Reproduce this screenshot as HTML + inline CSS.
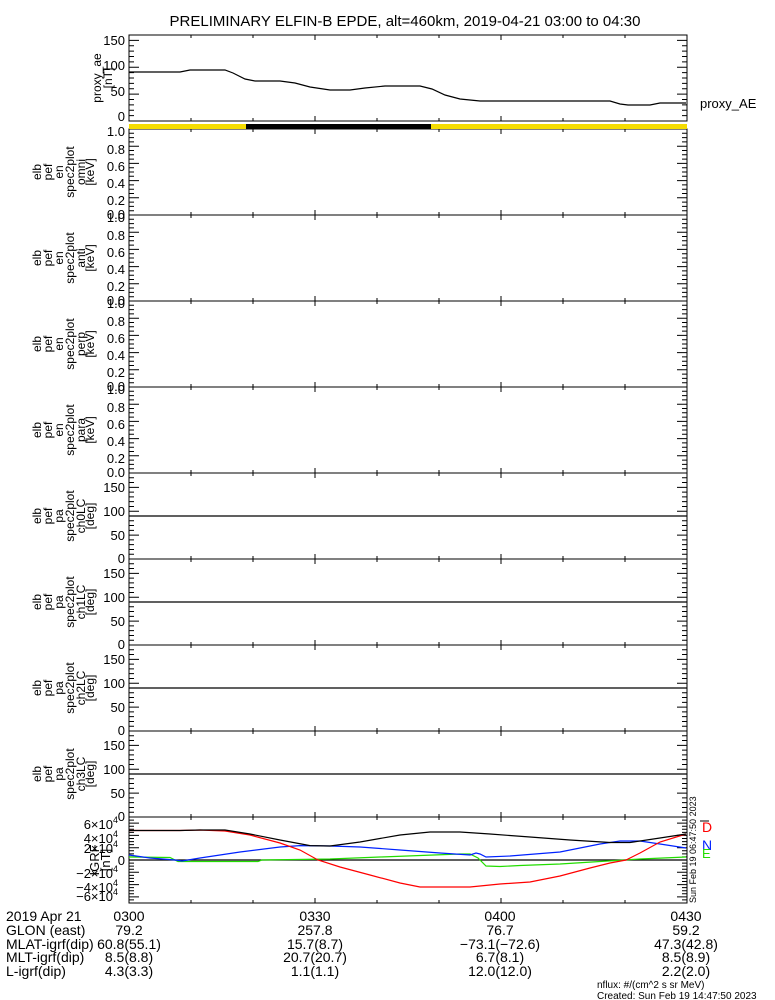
<!DOCTYPE html>
<html><head><meta charset="utf-8"><style>
html,body{margin:0;padding:0;background:#fff}
svg{display:block;font-family:"Liberation Sans",sans-serif}
</style></head><body>
<svg id="s" width="775" height="1000" viewBox="0 0 775 1000" xmlns="http://www.w3.org/2000/svg">
<rect width="775" height="1000" fill="#fff"/>
<text x="405" y="26" font-size="15" text-anchor="middle">PRELIMINARY ELFIN-B EPDE, alt=460km, 2019-04-21 03:00 to 04:30</text>
<g id="ticks" stroke="#000" stroke-width="1" fill="none"></g>
<!-- AE -->
<rect x="129" y="124" width="558" height="5" fill="#f5dc00"/>
<rect x="246" y="124" width="185" height="5" fill="#000"/>
<polyline fill="none" stroke="#000" stroke-width="1.2" points="129,72 180,72 190,70 225,70 233,73 245,79 255,81 280,81 295,83 310,87 330,90 350,90 365,88 385,86 420,86 432,89 445,95 460,99 480,101 610,101 620,104 628,105 650,105 660,103 686,103"/>
<text x="700" y="108" font-size="13">proxy_AE</text>
<g font-size="13" text-anchor="end">
<text x="125" y="45">150</text><text x="125" y="70">100</text><text x="125" y="96">50</text><text x="125" y="121">0</text>
</g>
<g font-size="12" text-anchor="middle">
<text transform="translate(101,78) rotate(-90)">proxy_ae</text>
<text transform="translate(112,78) rotate(-90)">[nT]</text>
</g>
<!-- en panels -->
<g font-size="13" text-anchor="end">
<text x="125" y="136">1.0</text><text x="125" y="154">0.8</text><text x="125" y="171">0.6</text><text x="125" y="188">0.4</text><text x="125" y="205">0.2</text><text x="125" y="219">0.0</text>
<text x="125" y="222">1.0</text><text x="125" y="240">0.8</text><text x="125" y="257">0.6</text><text x="125" y="274">0.4</text><text x="125" y="291">0.2</text><text x="125" y="305">0.0</text>
<text x="125" y="308">1.0</text><text x="125" y="326">0.8</text><text x="125" y="343">0.6</text><text x="125" y="360">0.4</text><text x="125" y="377">0.2</text><text x="125" y="391">0.0</text>
<text x="125" y="394">1.0</text><text x="125" y="412">0.8</text><text x="125" y="429">0.6</text><text x="125" y="446">0.4</text><text x="125" y="463">0.2</text><text x="125" y="477">0.0</text>
</g>
<g font-size="12" text-anchor="middle">
<g transform="translate(0,172)"><text transform="translate(41,0) rotate(-90)">elb</text><text transform="translate(52,0) rotate(-90)">pef</text><text transform="translate(63,0) rotate(-90)">en</text><text transform="translate(74,0) rotate(-90)">spec2plot</text><text transform="translate(85,0) rotate(-90)">omni</text><text transform="translate(94,0) rotate(-90)">[keV]</text></g>
<g transform="translate(0,258)"><text transform="translate(41,0) rotate(-90)">elb</text><text transform="translate(52,0) rotate(-90)">pef</text><text transform="translate(63,0) rotate(-90)">en</text><text transform="translate(74,0) rotate(-90)">spec2plot</text><text transform="translate(85,0) rotate(-90)">anti</text><text transform="translate(94,0) rotate(-90)">[keV]</text></g>
<g transform="translate(0,344)"><text transform="translate(41,0) rotate(-90)">elb</text><text transform="translate(52,0) rotate(-90)">pef</text><text transform="translate(63,0) rotate(-90)">en</text><text transform="translate(74,0) rotate(-90)">spec2plot</text><text transform="translate(85,0) rotate(-90)">perp</text><text transform="translate(94,0) rotate(-90)">[keV]</text></g>
<g transform="translate(0,430)"><text transform="translate(41,0) rotate(-90)">elb</text><text transform="translate(52,0) rotate(-90)">pef</text><text transform="translate(63,0) rotate(-90)">en</text><text transform="translate(74,0) rotate(-90)">spec2plot</text><text transform="translate(85,0) rotate(-90)">para</text><text transform="translate(94,0) rotate(-90)">[keV]</text></g>
<g transform="translate(0,516)"><text transform="translate(41,0) rotate(-90)">elb</text><text transform="translate(52,0) rotate(-90)">pef</text><text transform="translate(63,0) rotate(-90)">pa</text><text transform="translate(74,0) rotate(-90)">spec2plot</text><text transform="translate(85,0) rotate(-90)">ch0LC</text><text transform="translate(94,0) rotate(-90)">[deg]</text></g>
<g transform="translate(0,602)"><text transform="translate(41,0) rotate(-90)">elb</text><text transform="translate(52,0) rotate(-90)">pef</text><text transform="translate(63,0) rotate(-90)">pa</text><text transform="translate(74,0) rotate(-90)">spec2plot</text><text transform="translate(85,0) rotate(-90)">ch1LC</text><text transform="translate(94,0) rotate(-90)">[deg]</text></g>
<g transform="translate(0,688)"><text transform="translate(41,0) rotate(-90)">elb</text><text transform="translate(52,0) rotate(-90)">pef</text><text transform="translate(63,0) rotate(-90)">pa</text><text transform="translate(74,0) rotate(-90)">spec2plot</text><text transform="translate(85,0) rotate(-90)">ch2LC</text><text transform="translate(94,0) rotate(-90)">[deg]</text></g>
<g transform="translate(0,774)"><text transform="translate(41,0) rotate(-90)">elb</text><text transform="translate(52,0) rotate(-90)">pef</text><text transform="translate(63,0) rotate(-90)">pa</text><text transform="translate(74,0) rotate(-90)">spec2plot</text><text transform="translate(85,0) rotate(-90)">ch3LC</text><text transform="translate(94,0) rotate(-90)">[deg]</text></g>
<g transform="translate(0,860)" font-size="13"><text transform="translate(99,0) rotate(-90)">IGRF</text><text transform="translate(110,0) rotate(-90)">[nT]</text></g>
</g>
<!-- pa labels -->
<g font-size="13" text-anchor="end">
<text x="125" y="492">150</text><text x="125" y="516">100</text><text x="125" y="540">50</text><text x="125" y="563">0</text>
<text x="125" y="578">150</text><text x="125" y="602">100</text><text x="125" y="626">50</text><text x="125" y="649">0</text>
<text x="125" y="664">150</text><text x="125" y="688">100</text><text x="125" y="712">50</text><text x="125" y="735">0</text>
<text x="125" y="750">150</text><text x="125" y="774">100</text><text x="125" y="798">50</text><text x="125" y="821">0</text>
</g>
<g stroke="#000" stroke-width="1.3">
<line x1="129" y1="516" x2="687" y2="516"/><line x1="129" y1="602" x2="687" y2="602"/><line x1="129" y1="688" x2="687" y2="688"/><line x1="129" y1="774" x2="687" y2="774"/>
<line x1="129" y1="860" x2="687" y2="860"/>
</g>
<!-- IGRF labels -->
<g font-size="13" text-anchor="end">
<text x="118" y="829">6×10<tspan font-size="9" dy="-6">4</tspan></text>
<text x="118" y="843">4×10<tspan font-size="9" dy="-6">4</tspan></text>
<text x="118" y="853">2×10<tspan font-size="9" dy="-6">4</tspan></text>
<text x="125" y="865">0</text>
<text x="118" y="878">−2×10<tspan font-size="9" dy="-6">4</tspan></text>
<text x="118" y="892">−4×10<tspan font-size="9" dy="-6">4</tspan></text>
<text x="118" y="901">−6×10<tspan font-size="9" dy="-6">4</tspan></text>
</g>
<g fill="none" stroke-width="1.2">
<polyline style="stroke:#22dd00" points="129,857 170,857.5 178,861.5 258,861.5 262,860 330,859 380,857 460,854 470,854 478,858 486,866 500,866.5 520,865.5 560,864 600,861.5 640,859 686,857"/>
<polyline stroke="#0022ff" points="129,855 150,858 175,860 182,861 200,858 240,852 280,847 300,845.6 330,846 360,847 400,850 440,853 470,855 476,853 480,854 486,857 510,856 560,852 600,844 620,841 640,841 660,844 686,848"/>
<polyline stroke="#ff0000" points="129,830.5 180,830.5 200,830 225,831 250,835 280,843 300,850 318,860 340,867 370,875 400,883 420,887 470,887 500,884 530,882 560,876 590,868 610,863 626,860 640,853 660,842 686,834"/>
<polyline stroke="#000" points="129,830.5 180,830.5 200,830 225,830 250,834 280,840 310,845.6 330,846 360,842 400,835 430,832 460,832 490,834 530,837 570,840 610,842.5 630,842.5 660,838 686,834"/>
</g>
<text x="702" y="832" font-size="14" fill="#ff0000">D</text>
<line x1="700" y1="821" x2="709" y2="821" stroke="#000"/>
<text x="702" y="850" font-size="14" fill="#0022ff">N</text>
<text x="702" y="858" font-size="13" fill="#22dd00">E</text>
<text transform="translate(696,903) rotate(-90)" font-size="9">Sun Feb 19 06:47:50 2023</text>
<!-- bottom -->
<g font-size="14">
<text x="6" y="921">2019 Apr 21</text>
<text x="6" y="935">GLON (east)</text>
<text x="6" y="949">MLAT-igrf(dip)</text>
<text x="6" y="962">MLT-igrf(dip)</text>
<text x="6" y="976">L-igrf(dip)</text>
</g>
<g font-size="14" text-anchor="middle">
<text x="129" y="921">0300</text><text x="315" y="921">0330</text><text x="500" y="921">0400</text><text x="686" y="921">0430</text>
<text x="129" y="935">79.2</text><text x="315" y="935">257.8</text><text x="500" y="935">76.7</text><text x="686" y="935">59.2</text>
<text x="129" y="949">60.8(55.1)</text><text x="315" y="949">15.7(8.7)</text><text x="500" y="949">−73.1(−72.6)</text><text x="686" y="949">47.3(42.8)</text>
<text x="129" y="962">8.5(8.8)</text><text x="315" y="962">20.7(20.7)</text><text x="500" y="962">6.7(8.1)</text><text x="686" y="962">8.5(8.9)</text>
<text x="129" y="976">4.3(3.3)</text><text x="315" y="976">1.1(1.1)</text><text x="500" y="976">12.0(12.0)</text><text x="686" y="976">2.2(2.0)</text>
</g>
<text x="597" y="988" font-size="10">nflux: #/(cm^2 s sr MeV)</text>
<text x="597" y="999" font-size="10">Created: Sun Feb 19 14:47:50 2023</text>
<script>
(function(){
var g=document.getElementById('ticks'),d='';
var L=129,R=687,W=R-L;
var panels=[[35,121,0,160,10,50],[129,215,0,1,0.05,0.2],[215,301,0,1,0.05,0.2],[301,387,0,1,0.05,0.2],[387,473,0,1,0.05,0.2],[473,559,0,180,10,50],[559,645,0,180,10,50],[645,731,0,180,10,50],[731,817,0,180,10,50],[817,903,-70,70,5,20]];
panels.forEach(function(p){
var t=p[0],b=p[1];
d+='M'+L+' '+t+'H'+R+'V'+b+'H'+L+'Z';
for(var i=1;i<9;i++){var x=L+W*i/9;var l=(i%3==0)?5:3;d+='M'+x+' '+b+'v-'+l+'M'+x+' '+t+'v'+l;}
var n=Math.round((p[3]-p[2])/p[4]);
for(var k=0;k<=n;k++){var v=p[2]+k*p[4];var y=b-(v-p[2])/(p[3]-p[2])*(b-t);
var maj=Math.abs(v/p[5]-Math.round(v/p[5]))<1e-6;var l2=maj?10:5;
d+='M'+L+' '+y+'h'+l2+'M'+R+' '+y+'h-'+l2;}
});
var pth=document.createElementNS('http://www.w3.org/2000/svg','path');pth.setAttribute('d',d);g.appendChild(pth);
})();
</script>
</svg>
</body></html>
